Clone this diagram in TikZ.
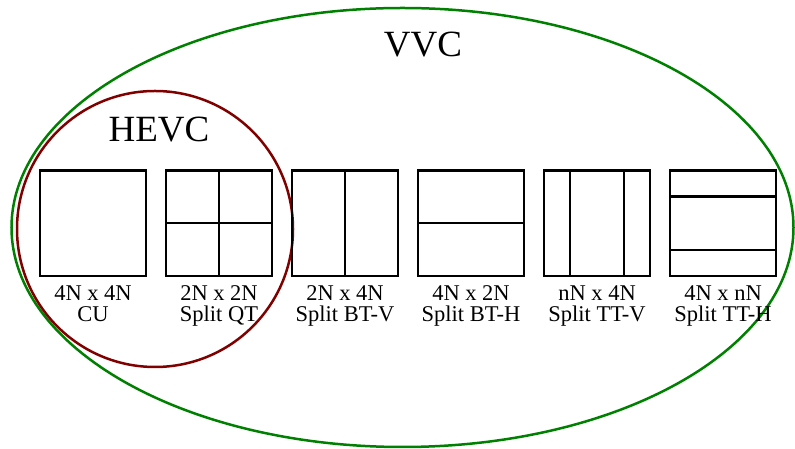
\documentclass[tikz,border=0pt]{standalone}
\usepackage{fontspec}
\setmainfont{Liberation Serif}
\usetikzlibrary{positioning,calc}
\definecolor{vvcgreen}{RGB}{0,128,0}
\definecolor{hevcred}{RGB}{128,0,0}

\begin{document}
\begin{tikzpicture}[x=1pt,y=1pt,
	blk/.style={draw,line width=2.4pt,minimum width=105.6pt,minimum height=105.3pt,inner sep=0pt},
	lbl/.style={align=center,inner sep=0pt,font=\fontsize{22.5}{21}\selectfont},
	ttl/.style={font=\fontsize{37}{40}\selectfont,inner sep=0pt},
	splt/.style={line width=2.4pt}]
			\useasboundingbox (0,0) rectangle (795,449);
			
			\draw [vvcgreen,line width=2.5pt] (402.5,221.5) ellipse [x radius=391, y radius=219.5];
			\draw [hevcred,line width=2.5pt] (155,220) circle [radius=138];
			\node [ttl] (vvc) at (423,404) {VVC};
			\node [ttl] (hevc) at (159,319) {HEVC};
			
			\node [blk] (cu) at (93,225.7) {};
			\node [blk,right=18pt of cu] (qt) {};
			\node [blk,right=18pt of qt] (btv) {};
			\node [blk,right=18pt of btv] (bth) {};
			\node [blk,right=18pt of bth] (ttv) {};
			\node [blk,right=18pt of ttv] (tth) {};
			
			\draw [splt] (qt.north) -- (qt.south) (qt.west) -- (qt.east);
			\draw [splt] (btv.north) -- (btv.south);
			\draw [splt] (bth.west) -- (bth.east);
			\draw [splt] ($(ttv.north)!0.5!(ttv.north west)$) -- ($(ttv.south)!0.5!(ttv.south west)$)
			($(ttv.north)!0.5!(ttv.north east)$) -- ($(ttv.south)!0.5!(ttv.south east)$);
			\draw [splt] ($(tth.west)!0.5!(tth.north west)$) -- ($(tth.east)!0.5!(tth.north east)$)
			($(tth.west)!0.5!(tth.south west)$) -- ($(tth.east)!0.5!(tth.south east)$);
			
			\node [lbl,below=8pt of cu] (cutxt) {4N x 4N\\CU};
			\node [lbl,below=8pt of qt] (qttxt) {2N x 2N\\Split QT};
			\node [lbl,below=8pt of btv] (btvtxt) {2N x 4N\\Split BT-V};
			\node [lbl,below=8pt of bth] (bthtxt) {4N x 2N\\Split BT-H};
			\node [lbl,below=8pt of ttv] (ttvtxt) {nN x 4N\\Split TT-V};
			\node [lbl,below=8pt of tth] (tthtxt) {4N x nN\\Split TT-H};
		\end{tikzpicture}
\end{document}
